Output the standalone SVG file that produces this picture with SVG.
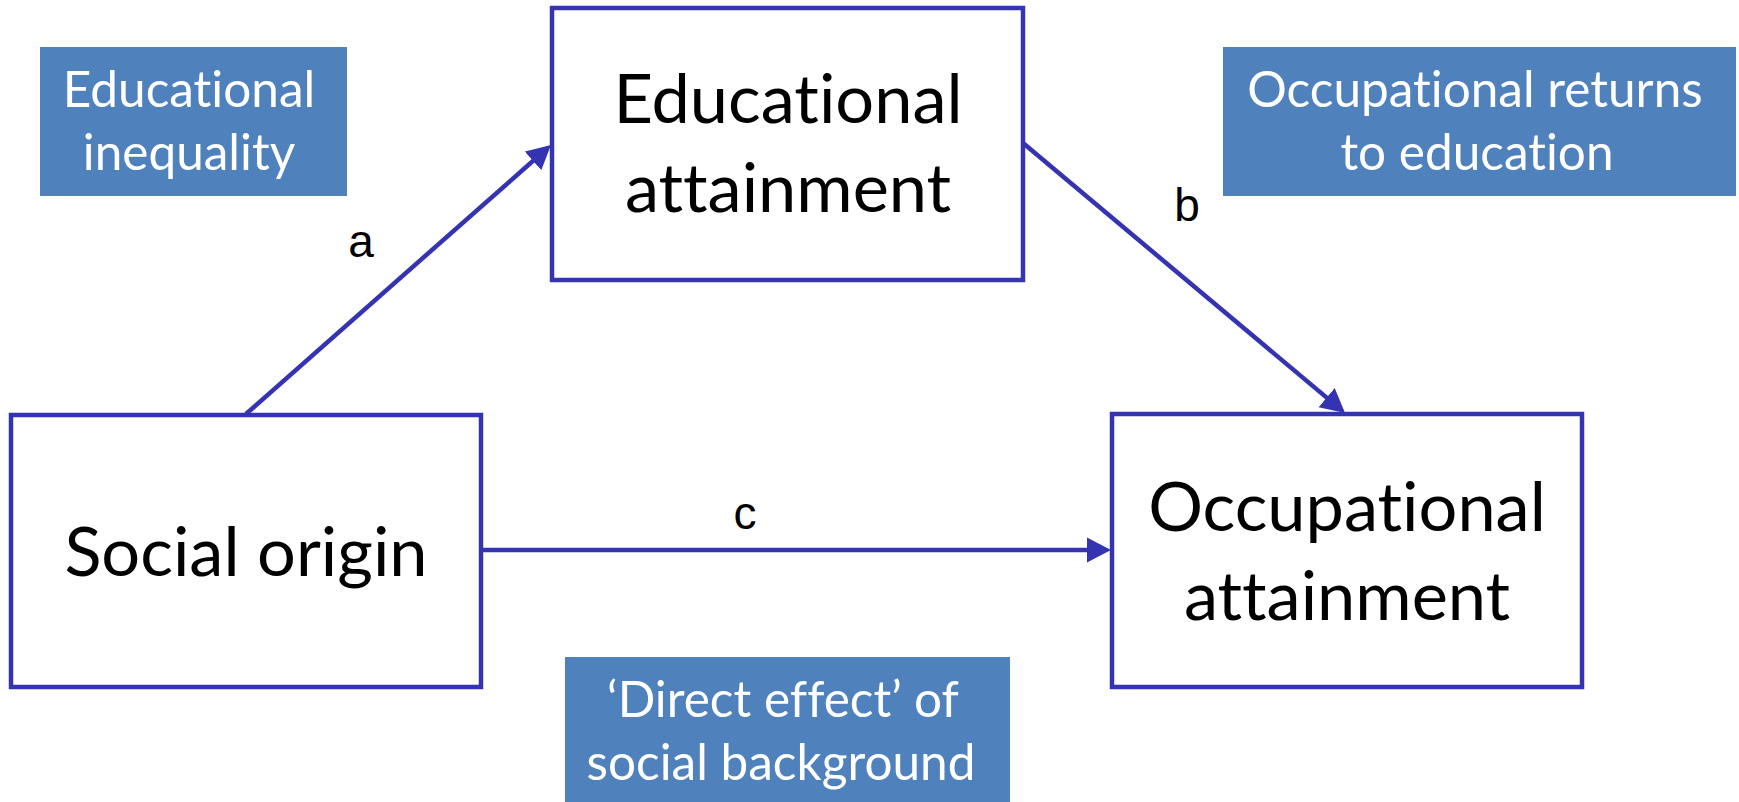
<svg xmlns="http://www.w3.org/2000/svg" width="1739" height="802" viewBox="0 0 1739 802">
  <style>
    text { font-variant-ligatures: none; font-feature-settings: "liga" 0, "clig" 0; }
    .node { fill: #ffffff; stroke: #3434B2; stroke-width: 4.5; }
    .note { fill: #4F81BD; stroke: none; }
    .ntext { font-family: Lato, "Open Sans", "Liberation Sans", sans-serif; font-size: 68.5px; fill: #000000; text-anchor: middle; }
    .btext { font-family: Lato, "Open Sans", "Liberation Sans", sans-serif; font-size: 49.5px; fill: #ffffff; text-anchor: middle; }
    .lbl { font-family: "Liberation Sans", Arial, sans-serif; font-size: 46px; fill: #000000; text-anchor: middle; }
    .conn { fill: none; stroke: #3434B2; stroke-width: 4.5; marker-end: url(#arrow); }
  </style>
  <defs>
    <marker id="arrow" markerUnits="userSpaceOnUse" markerWidth="26" markerHeight="26" refX="16" refY="12.5" orient="auto" viewBox="0 0 26 25">
      <path d="M0,0 L24,12.5 L0,25 z" fill="#3434B2"/>
    </marker>
  </defs>
  <rect x="0" y="0" width="1739" height="802" fill="#ffffff"/>

  <g id="note-educational-inequality">
    <rect class="note" x="40" y="47" width="307" height="149"/>
    <text class="btext" x="189" y="107">Educational</text>
    <text class="btext" x="189" y="170">inequality</text>
  </g>

  <g id="note-occupational-returns">
    <rect class="note" x="1223" y="47" width="513" height="149"/>
    <text class="btext" x="1475" y="107">Occupational returns</text>
    <text class="btext" x="1477" y="170">to education</text>
  </g>

  <g id="note-direct-effect">
    <rect class="note" x="565" y="657" width="445" height="145"/>
    <text class="btext" x="783" y="717">‘Direct effect’ of</text>
    <text class="btext" x="781" y="780">social background</text>
  </g>

  <g id="connectors">
    <path id="conn-a" class="conn" d="M246,414 L545,150.3"/>
    <path id="conn-b" class="conn" d="M1023,143 L1338.9,407.9"/>
    <path id="conn-c" class="conn" d="M481,550 L1103,550"/>
    <text class="lbl" x="361" y="257">a</text>
    <text class="lbl" x="1187" y="221">b</text>
    <text class="lbl" x="745" y="529">c</text>
  </g>

  <g id="node-educational-attainment">
    <rect class="node" x="552" y="8" width="471" height="272"/>
    <text class="ntext" x="788" y="123">Educational</text>
    <text class="ntext" x="788" y="212">attainment</text>
  </g>

  <g id="node-social-origin">
    <rect class="node" x="11" y="415" width="470" height="272"/>
    <text class="ntext" x="246" y="576">Social origin</text>
  </g>

  <g id="node-occupational-attainment">
    <rect class="node" x="1112" y="414" width="470" height="273"/>
    <text class="ntext" x="1347" y="531">Occupational</text>
    <text class="ntext" x="1347" y="620">attainment</text>
  </g>
</svg>
